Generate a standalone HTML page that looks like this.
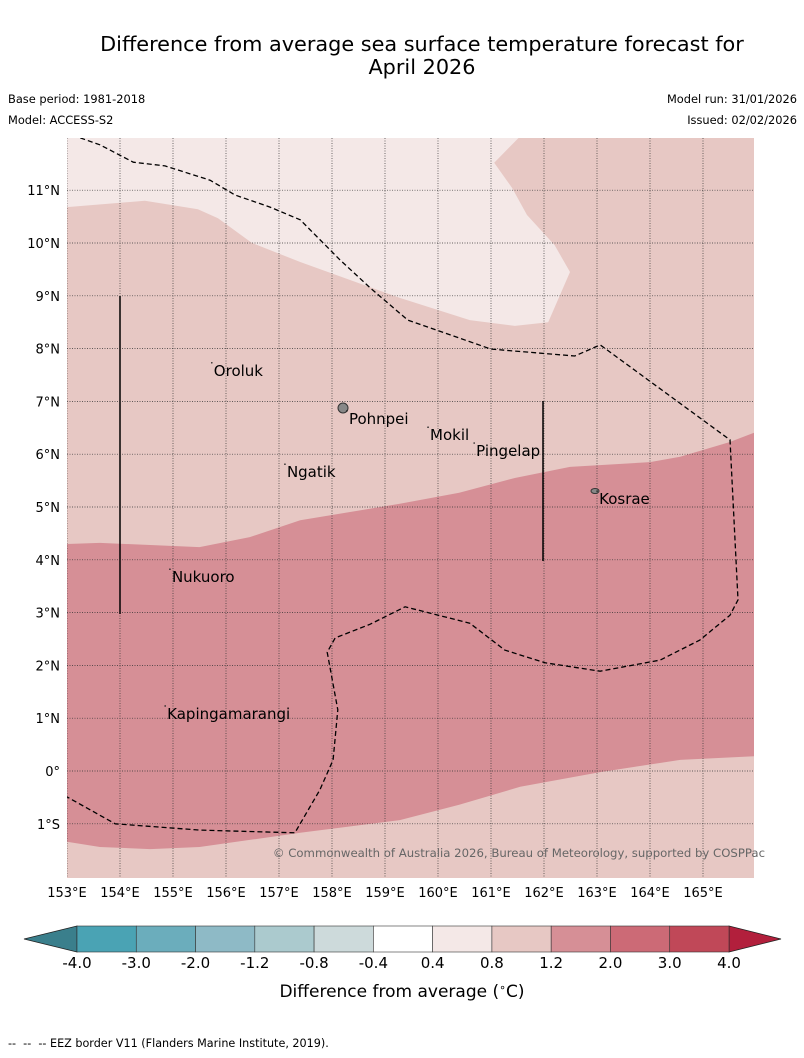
<!DOCTYPE html>
<html><head><meta charset="utf-8"><style>
body{margin:0;background:#fff;}
svg{display:block;font-family:"DejaVu Sans","Liberation Sans",sans-serif;}
</style></head><body>
<svg id="chart" width="804" height="1058" viewBox="0 0 804 1058" xmlns="http://www.w3.org/2000/svg">
<text x="422" y="51" text-anchor="middle" font-size="20.8">Difference from average sea surface temperature forecast for</text>
<text x="422" y="74" text-anchor="middle" font-size="20.8">April 2026</text>
<text x="8" y="103" font-size="11.4">Base period: 1981-2018</text>
<text x="8" y="124" font-size="11.4">Model: ACCESS-S2</text>
<text x="797" y="103" font-size="11.4" text-anchor="end">Model run: 31/01/2026</text>
<text x="797" y="124" font-size="11.4" text-anchor="end">Issued: 02/02/2026</text>
<defs><clipPath id="mapclip"><rect x="67" y="138" width="687" height="740"/></clipPath></defs>
<g id="map" clip-path="url(#mapclip)"></g>
<g id="axes"></g>
<g id="cbar"></g>
<text x="402" y="997" text-anchor="middle" font-size="17">Difference from average (<tspan font-size="11" dy="-6">∘</tspan><tspan dy="6">C)</tspan></text>
<text x="8" y="1047" font-size="11.2" xml:space="preserve">--  --  -- EEZ border V11 (Flanders Marine Institute, 2019).</text>
</svg>
<script>
const lonTicks=[153,154,155,156,157,158,159,160,161,162,163,164,165];
const latTicks=[-1,0,1,2,3,4,5,6,7,8,9,10,11];
const contourTopLon=[153,154.47,155.47,155.85,156.49,157.4,159.28,160.6,161.45,162.08,162.49,162.2,161.68,161.4,161.06,161.53];
const contourTopLat=[10.68,10.8,10.64,10.47,10.0,9.64,8.96,8.54,8.43,8.5,9.45,9.96,10.53,11.04,11.52,12.0];
const contourMidLon=[153,153.62,155.5,156.45,157.4,159.28,160.4,161.45,162.49,164,164.57,165.5,166];
const contourMidLat=[4.3,4.32,4.24,4.43,4.75,5.06,5.27,5.55,5.76,5.85,5.95,6.23,6.42];
const contourLowLon=[153,153.62,154.57,155.5,157.4,159.28,160.4,161.55,163.06,164.57,166];
const contourLowLat=[-1.34,-1.44,-1.48,-1.44,-1.17,-0.93,-0.64,-0.3,-0.02,0.21,0.28];
const eezLon=[153.25,153.62,154.25,154.85,155.7,156.17,156.83,157.4,158.15,158.72,159.43,161.0,162.58,163.06,165.51,165.66,165.51,164.94,164.19,163.06,162.02,161.26,160.6,159.38,158.72,158.06,157.91,158.11,158.02,157.77,157.3,155.51,153.91,153];
const eezLat=[11.99,11.86,11.53,11.46,11.19,10.91,10.68,10.44,9.68,9.15,8.54,7.99,7.86,8.07,6.27,3.24,2.95,2.48,2.1,1.89,2.05,2.29,2.8,3.11,2.78,2.52,2.25,1.16,0.21,-0.36,-1.17,-1.12,-1.0,-0.49];
const placeNames=["Oroluk","Pohnpei","Mokil","Pingelap","Ngatik","Kosrae","Nukuoro","Kapingamarangi"];
const placeLon=[155.77,158.32,159.85,160.72,157.15,163.04,154.98,154.89];
const placeLat=[7.58,6.67,6.36,6.06,5.66,5.15,3.67,1.08];
const cbLevels=["-4.0","-3.0","-2.0","-1.2","-0.8","-0.4","0.4","0.8","1.2","2.0","3.0","4.0"];
const cbColors=["#4aa3b4","#6badbc","#8ebac6","#abcace","#cddadb","#ffffff","#f4e8e7","#e7c8c4","#d68f96","#cc6a76","#c04858"];
(function(){
const NS="http://www.w3.org/2000/svg";
const X=lon=>67+(lon-153)*53;
const Y=lat=>771-lat*52.8;
function mk(tag,attrs,parent){const e=document.createElementNS(NS,tag);for(const k in attrs)e.setAttribute(k,attrs[k]);parent.appendChild(e);return e;}
const map=document.getElementById('map'),axes=document.getElementById('axes'),cbar=document.getElementById('cbar');
function pts(lons,lats){return lons.map((l,i)=>X(l).toFixed(1)+','+Y(lats[i]).toFixed(1));}
let bg=mk('rect',{x:67,y:138,width:687,height:740,fill:'#e7c8c4'},map);


let topBand=mk('polygon',{points:[X(153)+','+Y(12.1),...pts(contourTopLon,contourTopLat)].join(' '),fill:'#f4e8e7'},map);


let midBand=mk('polygon',{points:[...pts(contourMidLon,contourMidLat),...pts(contourLowLon,contourLowLat).reverse()].join(' '),fill:'#d68f96'},map);


lonTicks.forEach(l=>{let g=mk('line',{x1:X(l),x2:X(l),y1:138,y2:878,stroke:'#333','stroke-width':0.7,'stroke-dasharray':'1,1.5'},map);


let t=mk('text',{x:X(l),y:897,'text-anchor':'middle','font-size':13},axes);t.textContent=l+'°E';

});
latTicks.forEach(l=>{let g=mk('line',{x1:67,x2:754,y1:Y(l),y2:Y(l),stroke:'#333','stroke-width':0.7,'stroke-dasharray':'1,1.5'},map);


let t=mk('text',{x:60,y:Y(l)+5,'text-anchor':'end','font-size':13},axes);t.textContent=l<0?(-l)+'°S':(l===0?'0°':l+'°N');

});
let eez=mk('polyline',{points:pts(eezLon,eezLat).join(' '),fill:'none',stroke:'#000','stroke-width':1.3,'stroke-dasharray':'5,3'},map);


let v1=mk('line',{x1:120,x2:120,y1:296,y2:614,stroke:'#000','stroke-width':1.5},map);


let v2=mk('line',{x1:543,x2:543,y1:401,y2:561,stroke:'#000','stroke-width':1.5},map);


let pon=mk('circle',{cx:343,cy:408,r:5,fill:'#888',stroke:'#333','stroke-width':1},map);


let kos=mk('ellipse',{cx:595,cy:491,rx:4,ry:2.5,fill:'#888',stroke:'#333','stroke-width':1},map);


placeNames.forEach((n,i)=>{let t=mk('text',{x:X(placeLon[i]),y:Y(placeLat[i])+5,'font-size':15},map);t.textContent=n;


let d=mk('circle',{cx:X(placeLon[i])-2,cy:Y(placeLat[i])-8,r:0.8,fill:'#222'},map);

});
let cp=mk('text',{x:765,y:857,'text-anchor':'end','font-size':11.7,fill:'#666'},axes);cp.textContent='© Commonwealth of Australia 2026, Bureau of Meteorology, supported by COSPPac';


const cx0=77,cx1=729,cy0=926,cy1=952,sw=(cx1-cx0)/cbColors.length;
let la=mk('polygon',{points:`${cx0},${cy0} 24,939 ${cx0},${cy1}`,fill:'#3a7f8c',stroke:'#222','stroke-width':0.8},cbar);


let ra=mk('polygon',{points:`${cx1},${cy0} 781,939 ${cx1},${cy1}`,fill:'#b21f3c',stroke:'#222','stroke-width':0.8},cbar);


cbColors.forEach((c,i)=>{let r=mk('rect',{x:cx0+i*sw,y:cy0,width:sw,height:cy1-cy0,fill:c,stroke:'#333','stroke-width':0.6},cbar);

});
cbLevels.forEach((v,i)=>{let t=mk('text',{x:cx0+i*sw,y:968,'text-anchor':'middle','font-size':15},cbar);t.textContent=v;

});
})();
</script>
</body></html>
